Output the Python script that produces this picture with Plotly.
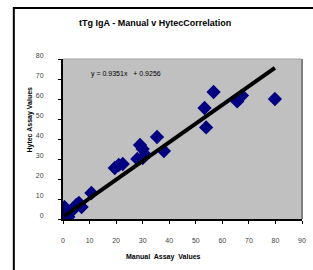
import plotly.graph_objects as go

manual = [0.5, 1.0, 1.5, 2.0, 3.0, 4.0, 5.0, 6.0, 7.0, 10.7, 19.5, 21.0, 22.5,
          28.0, 29.0, 30.0, 31.0, 30.0, 35.4, 38.0, 53.3, 53.9, 56.7, 65.6, 67.4, 79.8]
hytec = [6.0, 2.0, 3.5, 1.0, 4.0, 5.0, 7.0, 8.0, 6.0, 13.0, 25.5, 27.0, 27.5,
         30.0, 37.0, 35.0, 32.0, 30.5, 41.0, 34.0, 55.5, 45.8, 63.5, 58.8, 61.7, 60.0]
slope, intercept = 0.9351, 0.9256
x_ticks = [0, 10, 20, 30, 40, 50, 60, 70, 80, 90]
y_ticks = [0, 10, 20, 30, 40, 50, 60, 70, 80]

FONT = "Liberation Sans, Arial, sans-serif"
W, H = 313, 270
L, R, T, B = 63, 7, 59, 51
pw, ph = W - L - R, H - T - B

def px(xpix):
    return (xpix - L) / pw

def py(ypix):
    return (H - B - ypix) / ph

fig = go.Figure()
fig.add_trace(go.Scatter(
    x=manual, y=hytec, mode="markers",
    marker=dict(symbol="diamond", size=11, color="#000080", line=dict(width=0)),
    showlegend=False))
x_line = [min(manual), max(manual)]
fig.add_trace(go.Scatter(
    x=x_line, y=[slope * v + intercept for v in x_line], mode="lines",
    line=dict(color="black", width=4), showlegend=False))

fig.update_layout(
    width=W, height=H, margin=dict(l=L, r=R, t=T, b=B),
    paper_bgcolor="white", plot_bgcolor="#C0C0C0",
    font=dict(family=FONT, color="#333333"),
    xaxis=dict(range=[0, 90], tickvals=x_ticks, ticks="outside", ticklen=3,
               tickcolor="black", showgrid=False, zeroline=False,
               showline=True, linecolor="black", linewidth=2,
               tickfont=dict(size=7, color="#444444"), ticklabelstandoff=11),
    yaxis=dict(range=[0, 80], tickvals=y_ticks, ticks="outside", ticklen=3,
               tickcolor="black", showgrid=False, zeroline=False,
               showline=True, linecolor="black", linewidth=2,
               tickfont=dict(size=7, color="#444444"), ticklabelstandoff=13,
               ticklabelshift=-3),
)

# plot area border (top/right grey)
fig.add_shape(type="line", xref="paper", yref="paper", x0=1, x1=1, y0=0, y1=1,
              line=dict(color="#808080", width=2), layer="above")
fig.add_shape(type="line", xref="paper", yref="paper", x0=0, x1=1, y0=1, y1=1,
              line=dict(color="#A0A0A0", width=1), layer="above")
# outer chart border (extends beyond the image)
fig.add_shape(type="rect", xref="paper", yref="paper",
              x0=px(13), x1=px(340), y0=py(300), y1=py(8),
              line=dict(color="black", width=2), layer="above")

def note(text, x, y, size, angle=0):
    fig.add_annotation(text=text, xref="paper", yref="paper", x=px(x), y=py(y),
                       xanchor="center", yanchor="middle", textangle=angle,
                       showarrow=False,
                       font=dict(size=size, color="black", family=FONT))

note("<b>tTg IgA - Manual v HytecCorrelation</b>", 157, 23, 9)
note("<b>Hytec Assay Values</b>", 29, 120, 7, -90)
note("<b>Manual  Assay  Values</b>", 165, 257, 7)
note("y = %.4fx   + %.4f" % (slope, intercept), 127, 74, 7)

fig.write_html("out.html",
               config={"displayModeBar": False, "staticPlot": True},
               post_script="document.body.style.margin='0';"
                           "document.body.style.padding='0';")
